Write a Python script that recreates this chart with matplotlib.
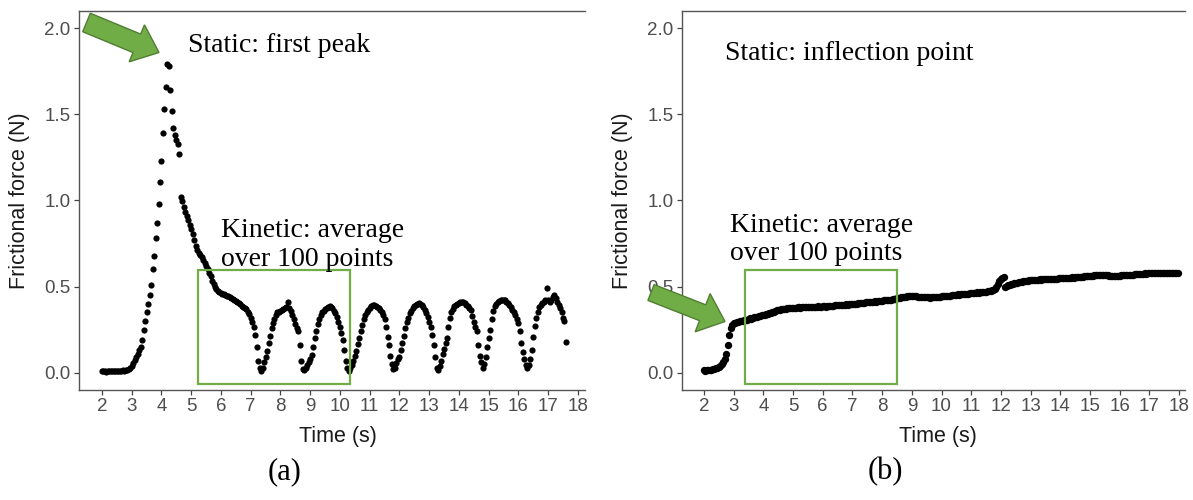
import numpy as np
import matplotlib
matplotlib.use("Agg")
import matplotlib.pyplot as plt
from matplotlib.patches import Rectangle, Polygon

# ---------------- data ----------------
sample_start = 2.0      # s
sample_step = 0.05      # s (20 Hz)

# (a) force samples from t = 2.00 s, every 0.05 s
force_a = [
    0.01, 0.008, 0.01, 0.005, 0.01, 0.008, 0.01, 0.01, 0.008, 0.01,
    0.01, 0.012, 0.01, 0.012, 0.015, 0.012, 0.015, 0.017, 0.02, 0.028,
    0.04, 0.055, 0.075, 0.09, 0.11, 0.13, 0.15, 0.19, 0.25, 0.30,
    0.35, 0.40, 0.45, 0.51, 0.60, 0.68, 0.78, 0.87, 0.98, 1.11,
    1.23, 1.39, 1.53, 1.66, 1.79, 1.78, 1.64, 1.52, 1.42, 1.38,
    1.35, 1.33, 1.27, 1.02, 0.995, 0.965, 0.935, 0.91, 0.885, 0.86,
    0.835, 0.805, 0.77, 0.735, 0.71, 0.695, 0.685, 0.67, 0.655, 0.64,
    0.62, 0.60, 0.58, 0.56, 0.535, 0.515, 0.50, 0.485, 0.475, 0.468,
    0.462, 0.458, 0.455, 0.452, 0.448, 0.444, 0.44, 0.435, 0.43, 0.424,
    0.418, 0.41, 0.404, 0.397, 0.39, 0.384, 0.377, 0.368, 0.355, 0.34,
    0.32, 0.295, 0.265, 0.22, 0.15, 0.07, 0.03, 0.01, 0.03, 0.06,
    0.09, 0.125, 0.17, 0.215, 0.26, 0.29, 0.315, 0.335, 0.35, 0.355,
    0.36, 0.365, 0.37, 0.375, 0.38, 0.41, 0.375, 0.36, 0.335, 0.31,
    0.285, 0.26, 0.24, 0.16, 0.07, 0.02, 0.015, 0.03, 0.045, 0.065,
    0.08, 0.105, 0.15, 0.20, 0.245, 0.285, 0.315, 0.335, 0.35, 0.36,
    0.37, 0.378, 0.383, 0.385, 0.383, 0.375, 0.36, 0.345, 0.325, 0.295,
    0.265, 0.23, 0.19, 0.13, 0.07, 0.025, 0.01, 0.025, 0.045, 0.07,
    0.095, 0.125, 0.165, 0.20, 0.24, 0.275, 0.31, 0.335, 0.35, 0.365,
    0.375, 0.385, 0.392, 0.394, 0.39, 0.384, 0.375, 0.362, 0.35, 0.335,
    0.31, 0.265, 0.21, 0.16, 0.10, 0.05, 0.02, 0.03, 0.055, 0.08,
    0.09, 0.13, 0.17, 0.215, 0.26, 0.295, 0.32, 0.345, 0.36, 0.375,
    0.385, 0.395, 0.40, 0.404, 0.40, 0.392, 0.38, 0.365, 0.345, 0.325,
    0.295, 0.265, 0.22, 0.16, 0.09, 0.03, 0.015, 0.04, 0.07, 0.11,
    0.14, 0.17, 0.20, 0.265, 0.32, 0.35, 0.37, 0.385, 0.395, 0.40,
    0.405, 0.41, 0.413, 0.41, 0.405, 0.395, 0.385, 0.375, 0.365, 0.33,
    0.295, 0.268, 0.24, 0.16, 0.10, 0.065, 0.025, 0.05, 0.09, 0.15,
    0.20, 0.25, 0.31, 0.36, 0.385, 0.40, 0.41, 0.415, 0.42, 0.423,
    0.423, 0.42, 0.413, 0.405, 0.394, 0.38, 0.365, 0.35, 0.335, 0.315,
    0.29, 0.24, 0.17, 0.12, 0.08, 0.045, 0.03, 0.045, 0.08, 0.13,
    0.21, 0.27, 0.32, 0.355, 0.38, 0.395, 0.405, 0.41, 0.42, 0.49,
    0.42, 0.413, 0.425, 0.44, 0.452, 0.433, 0.41, 0.394, 0.375, 0.35,
    0.317, 0.30, 0.181,
]

# (b) force samples from t = 2.00 s, every 0.05 s
force_b = [
    0.015, 0.013, 0.015, 0.016, 0.015, 0.018, 0.02, 0.022, 0.025, 0.028,
    0.035, 0.042, 0.05, 0.062, 0.08, 0.11, 0.16, 0.22, 0.26, 0.28,
    0.287, 0.29, 0.293, 0.296, 0.298, 0.30, 0.303, 0.305, 0.307, 0.309,
    0.312, 0.316, 0.314, 0.318, 0.322, 0.325, 0.324, 0.328, 0.33, 0.333,
    0.336, 0.338, 0.34, 0.343, 0.345, 0.348, 0.352, 0.355, 0.358, 0.362,
    0.364, 0.366, 0.368, 0.37, 0.372, 0.371, 0.374, 0.375, 0.376, 0.375,
    0.377, 0.378, 0.376, 0.379, 0.38, 0.378, 0.38, 0.381, 0.379, 0.381,
    0.382, 0.38, 0.383, 0.381, 0.384, 0.382, 0.383, 0.385, 0.383, 0.384,
    0.385, 0.386, 0.384, 0.387, 0.388, 0.389, 0.388, 0.39, 0.391, 0.392,
    0.393, 0.392, 0.394, 0.395, 0.394, 0.396, 0.397, 0.396, 0.398, 0.399,
    0.40, 0.401, 0.402, 0.401, 0.403, 0.404, 0.405, 0.404, 0.406, 0.408,
    0.409, 0.41, 0.409, 0.411, 0.412, 0.414, 0.413, 0.415, 0.414, 0.416,
    0.418, 0.42, 0.422, 0.421, 0.423, 0.425, 0.424, 0.426, 0.428, 0.43,
    0.432, 0.434, 0.436, 0.437, 0.438, 0.44, 0.442, 0.443, 0.444, 0.445,
    0.446, 0.445, 0.443, 0.444, 0.442, 0.44, 0.441, 0.439, 0.44, 0.438,
    0.437, 0.438, 0.436, 0.438, 0.44, 0.439, 0.441, 0.44, 0.442, 0.441,
    0.443, 0.444, 0.446, 0.445, 0.447, 0.448, 0.447, 0.45, 0.451, 0.452,
    0.453, 0.455, 0.454, 0.456, 0.457, 0.458, 0.457, 0.459, 0.46, 0.461,
    0.462, 0.461, 0.463, 0.464, 0.466, 0.465, 0.467, 0.468, 0.467, 0.469,
    0.47, 0.472, 0.474, 0.476, 0.478, 0.48, 0.488, 0.50, 0.515, 0.532,
    0.545, 0.553, 0.558, 0.50, 0.505, 0.51, 0.512, 0.515, 0.518, 0.52,
    0.522, 0.524, 0.526, 0.527, 0.529, 0.531, 0.532, 0.534, 0.535, 0.537,
    0.538, 0.539, 0.54, 0.538, 0.541, 0.54, 0.542, 0.541, 0.543, 0.542,
    0.543, 0.544, 0.543, 0.545, 0.544, 0.546, 0.545, 0.547, 0.546, 0.548,
    0.549, 0.548, 0.55, 0.549, 0.551, 0.552, 0.551, 0.553, 0.554, 0.553,
    0.555, 0.556, 0.555, 0.557, 0.558, 0.557, 0.559, 0.56, 0.561, 0.562,
    0.563, 0.562, 0.564, 0.565, 0.566, 0.567, 0.566, 0.568, 0.567, 0.568,
    0.567, 0.566, 0.565, 0.564, 0.563, 0.562, 0.563, 0.562, 0.564, 0.563,
    0.564, 0.565, 0.566, 0.565, 0.567, 0.568, 0.567, 0.569, 0.57, 0.569,
    0.571, 0.572, 0.573, 0.574, 0.573, 0.575, 0.576, 0.577, 0.576, 0.578,
    0.577, 0.578, 0.579, 0.578, 0.577, 0.579, 0.578, 0.58, 0.579, 0.578,
    0.579, 0.58, 0.578, 0.579, 0.58, 0.579, 0.578, 0.58, 0.579, 0.578,
]

x_ticks = list(range(2, 19))
y_ticks = [0.0, 0.5, 1.0, 1.5, 2.0]
x_label = "Time (s)"
y_label = "Frictional force (N)"
static_labels = ["Static: first peak", "Static: inflection point"]
kinetic_lines = ["Kinetic: average", "over 100 points"]
panel_labels = ["(a)", "(b)"]
# averaging windows (time span) drawn as green boxes
kinetic_window_a = (5.23, 10.34)
kinetic_window_b = (3.38, 8.50)

# ---------------- figure ----------------
W, H = 1193, 500
fig = plt.figure(figsize=(W / 100, H / 100), dpi=100)
fig.patch.set_facecolor("white")

SANS = ["Liberation Sans", "DejaVu Sans"]
SERIF = ["Liberation Serif", "DejaVu Serif"]
GREEN = "#70AD47"
GREEN_EDGE = "#507E32"


def px_axes(l, t, r, b):
    return fig.add_axes([l / W, 1 - b / H, (r - l) / W, (b - t) / H])


def style_axes(ax, xlim):
    ax.set_xlim(*xlim)
    ax.set_ylim(-0.1, 2.1)
    ax.set_xticks(x_ticks)
    ax.set_yticks(y_ticks)
    ax.set_xticklabels([str(v) for v in x_ticks])
    ax.set_yticklabels([f"{v:.1f}" for v in y_ticks])
    for s in ["left", "bottom", "top"]:
        ax.spines[s].set_color("#555555")
        ax.spines[s].set_linewidth(1.0)
    ax.spines["right"].set_visible(False)
    ax.tick_params(axis="both", length=3.5, width=0.9, color="#444444",
                   labelcolor="#4D4D4D", labelsize=13.5, pad=2.5)
    for lab in ax.get_xticklabels() + ax.get_yticklabels():
        lab.set_family(SANS)


def add_arrow(tail, tip, body_w, head_w, head_l):
    tx, ty = tail
    hx, hy = tip
    d = np.array([hx - tx, hy - ty], float)
    L = np.hypot(*d)
    u = d / L
    n = np.array([-u[1], u[0]])
    base = np.array([tx, ty]) + u * (L - head_l)
    t0 = np.array([tx, ty])
    pts = [t0 + n * body_w / 2, base + n * body_w / 2, base + n * head_w / 2,
           np.array([hx, hy]), base - n * head_w / 2, base - n * body_w / 2,
           t0 - n * body_w / 2]
    verts = [(p[0] / W, 1 - p[1] / H) for p in pts]
    poly = Polygon(verts, closed=True, transform=fig.transFigure,
                   facecolor=GREEN, edgecolor=GREEN_EDGE, lw=1.0, zorder=10)
    fig.add_artist(poly)


def ftext(x, y, s, **kw):
    fig.text(x / W, 1 - y / H, s, **kw)


# panel (a)
ax1 = px_axes(79, 11, 585, 390)
t_a = sample_start + sample_step * np.arange(len(force_a))
ax1.scatter(t_a, force_a, s=20, color="black", linewidths=0, zorder=3)
style_axes(ax1, (1.227, 18.24))
ax1.add_patch(Rectangle((kinetic_window_a[0], -0.064),
                        kinetic_window_a[1] - kinetic_window_a[0], 0.661,
                        fill=False, edgecolor=GREEN, lw=1.6, zorder=4))

# panel (b)
ax2 = px_axes(682, 11, 1185, 390)
t_b = sample_start + sample_step * np.arange(len(force_b))
ax2.scatter(t_b, force_b, s=28, color="black", linewidths=0, zorder=3)
style_axes(ax2, (1.26, 18.2))
ax2.add_patch(Rectangle((kinetic_window_b[0], -0.064),
                        kinetic_window_b[1] - kinetic_window_b[0], 0.661,
                        fill=False, edgecolor=GREEN, lw=1.6, zorder=4))

for ax, xc, yc in [(ax1, 0.512, -0.124), (ax2, 0.509, -0.124)]:
    ax.set_xlabel(x_label, family=SANS, fontsize=15.5, color="#1a1a1a",
                  va="center", ha="center")
    ax.xaxis.set_label_coords(xc, yc)
for ax, xc in [(ax1, -0.117), (ax2, -0.119)]:
    ax.set_ylabel(y_label, family=SANS, fontsize=15.5, color="#1a1a1a",
                  va="center", ha="center")
    ax.yaxis.set_label_coords(xc, 0.499)

# annotations
ann = dict(family=SERIF, fontsize=20, color="black", va="baseline", ha="left")
ftext(188, 52, static_labels[0], **ann)
ftext(221, 237, kinetic_lines[0], **ann)
ftext(221, 266, kinetic_lines[1], **ann)
ftext(725, 60, static_labels[1], **ann)
ftext(730, 232, kinetic_lines[0], **ann)
ftext(730, 260, kinetic_lines[1], **ann)

ftext(285, 472, panel_labels[0], family=SERIF, fontsize=22, ha="center", va="center")
ftext(885, 472, panel_labels[1], family=SERIF, fontsize=22, ha="center", va="center")

# arrows
add_arrow((86.5, 22.5), (159, 52.5), 20, 40, 24)
add_arrow((651, 292.5), (725, 321.5), 17, 41, 24)

fig.savefig("out.png", dpi=100, facecolor="white")
